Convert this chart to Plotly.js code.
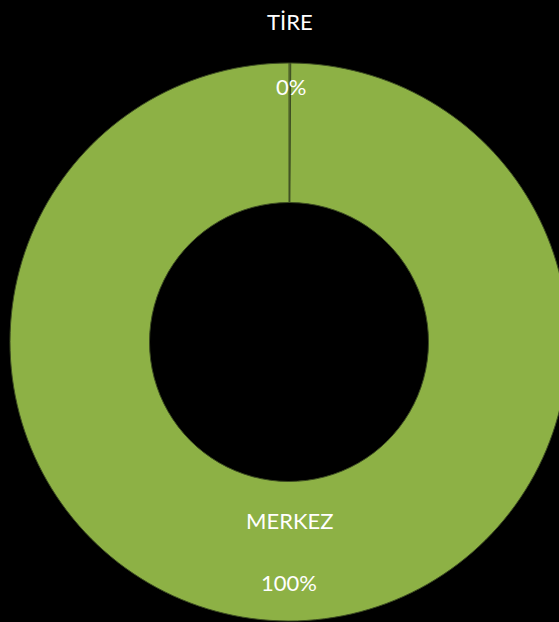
<!DOCTYPE html>
<html>
<head>
<meta charset="utf-8">
<script src="https://cdn.plot.ly/plotly-3.0.1.min.js"></script>
<style>
html,body{margin:0;padding:0;background:#000;overflow:hidden;width:559px;height:622px;}
#chart{width:578px;height:622px;}
</style>
</head>
<body>
<div id="chart"></div>
<script>
// Data
const labels = ['TİRE', 'MERKEZ'];
const values = [0.1, 99.9];
const sliceColors = ['#8db145', '#8db145'];

const total = values.reduce((a, b) => a + b, 0);
const pct = values.map(v => Math.round(v / total * 100) + '%');

const trace = {
  type: 'pie',
  labels: labels,
  values: values,
  hole: 0.5,
  sort: false,
  direction: 'clockwise',
  rotation: 0,
  textinfo: 'none',
  hoverinfo: 'label+percent',
  marker: {
    colors: sliceColors,
    line: { color: '#3d4d22', width: 1 }
  },
  showlegend: false
};

const font = { family: 'Lato, "Open Sans", sans-serif', size: 22, color: '#ffffff' };

// plot area: x 10..568, y 62..622 (560 tall)
function py(pixelY) { return (622 - pixelY) / 560; }
function px(pixelX) { return (pixelX - 10) / 558; }

const annotations = [
  { text: labels[0], x: px(290), y: py(21), xref: 'paper', yref: 'paper', showarrow: false, font: font, xanchor: 'center', yanchor: 'middle' },
  { text: pct[0], x: px(291), y: py(87), xref: 'paper', yref: 'paper', showarrow: false, font: font, xanchor: 'center', yanchor: 'middle' },
  { text: labels[1], x: px(289), y: py(520), xref: 'paper', yref: 'paper', showarrow: false, font: font, xanchor: 'center', yanchor: 'middle' },
  { text: pct[1], x: px(289), y: py(582), xref: 'paper', yref: 'paper', showarrow: false, font: font, xanchor: 'center', yanchor: 'middle' }
];

const layout = {
  width: 578,
  height: 622,
  margin: { l: 10, r: 10, t: 62, b: 0, pad: 0 },
  paper_bgcolor: '#000000',
  plot_bgcolor: '#000000',
  annotations: annotations,
  showlegend: false
};

Plotly.newPlot('chart', [trace], layout, { displayModeBar: false, staticPlot: true });
</script>
</body>
</html>
